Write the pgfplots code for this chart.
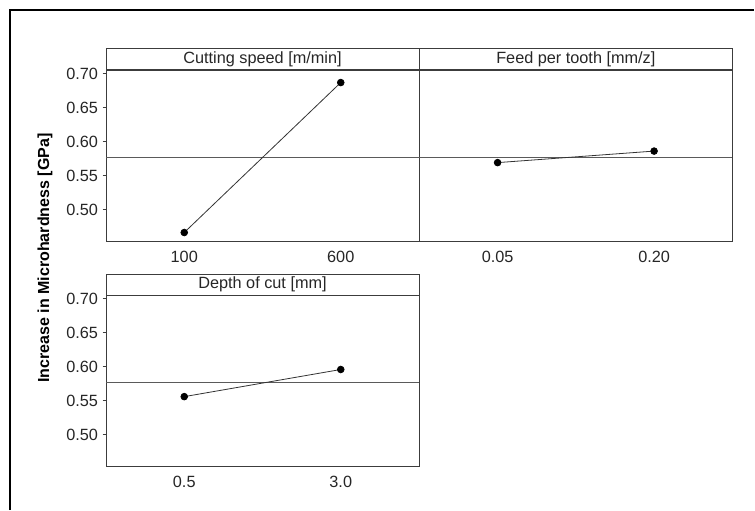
\documentclass[border=0pt]{standalone}
\usepackage{fontspec}
\setmainfont{Liberation Sans}
\usepackage{pgfplots}
\pgfplotsset{compat=1.18}

\definecolor{frame}{RGB}{60,60,60}
\definecolor{meanline}{RGB}{90,90,90}

\pgfplotsset{
  panel/.style={
    scale only axis,
    width=234.75pt, height=128.25pt,
    xmin=0.5, xmax=2.5, ymin=0.453, ymax=0.705,
    xtick={1,2},
    xtick style={draw=none},
    ytick={0.50,0.55,0.60,0.65,0.70},
    yticklabel style={/pgf/number format/.cd, fixed, fixed zerofill, precision=2},
    xticklabel style={yshift=-4pt},
    /pgf/number format/assume math mode=true,
    tick label style={font=\fontsize{12.2}{14}\selectfont, text=black!85},
    ytick align=outside, major tick length=2.5pt,
    ytick pos=left,
    axis line style={frame, line width=0.7pt},
    every tick/.style={frame, line width=0.7pt},
    title style={at={(0.5,1)}, anchor=south, yshift=-6pt, draw=frame, line width=0.7pt,
      minimum width=234.75pt, minimum height=15.75pt, inner sep=0pt,
      font=\fontsize{12.2}{14}\selectfont, text=black!85},
    clip=false,
  },
  dat/.style={black!80, line width=0.6pt, mark=*, mark size=2.5pt,
    mark options={black, solid}},
  avg/.style={meanline, line width=0.75pt, no marks},
}

\begin{document}
\begin{tikzpicture}
\path (0pt,0pt) rectangle (566.25pt,382.5pt);
\draw[black, line width=1pt] (7.5pt,0pt) -- (7.5pt,375pt) -- (565.5pt,375pt);

\node[rotate=90, font=\bfseries\fontsize{12}{14}\selectfont] at (33.75pt,189pt)
  {Increase in Microhardness [GPa]};

% Cutting speed
\begin{axis}[panel, at={(79.5pt,201.5pt)}, anchor=south west,
  title={Cutting speed [m/min]}, xticklabels={100,600}]
\addplot[avg] coordinates {(0.5,0.5765) (2.5,0.5765)};
\addplot[dat] coordinates {(1,0.466) (2,0.687)};
\end{axis}

% Feed per tooth
\begin{axis}[panel, at={(314.5pt,201.5pt)}, anchor=south west,
  title={Feed per tooth [mm/z]}, xticklabels={0.05,0.20},
  yticklabels={}, ytick style={draw=none}]
\addplot[avg] coordinates {(0.5,0.5765) (2.5,0.5765)};
\addplot[dat] coordinates {(1,0.569) (2,0.586)};
\end{axis}

% Depth of cut
\begin{axis}[panel, at={(79.5pt,32.6pt)}, anchor=south west,
  title={Depth of cut [mm]}, xticklabels={0.5,3.0}]
\addplot[avg] coordinates {(0.5,0.5765) (2.5,0.5765)};
\addplot[dat] coordinates {(1,0.556) (2,0.596)};
\end{axis}
\end{tikzpicture}
\end{document}
